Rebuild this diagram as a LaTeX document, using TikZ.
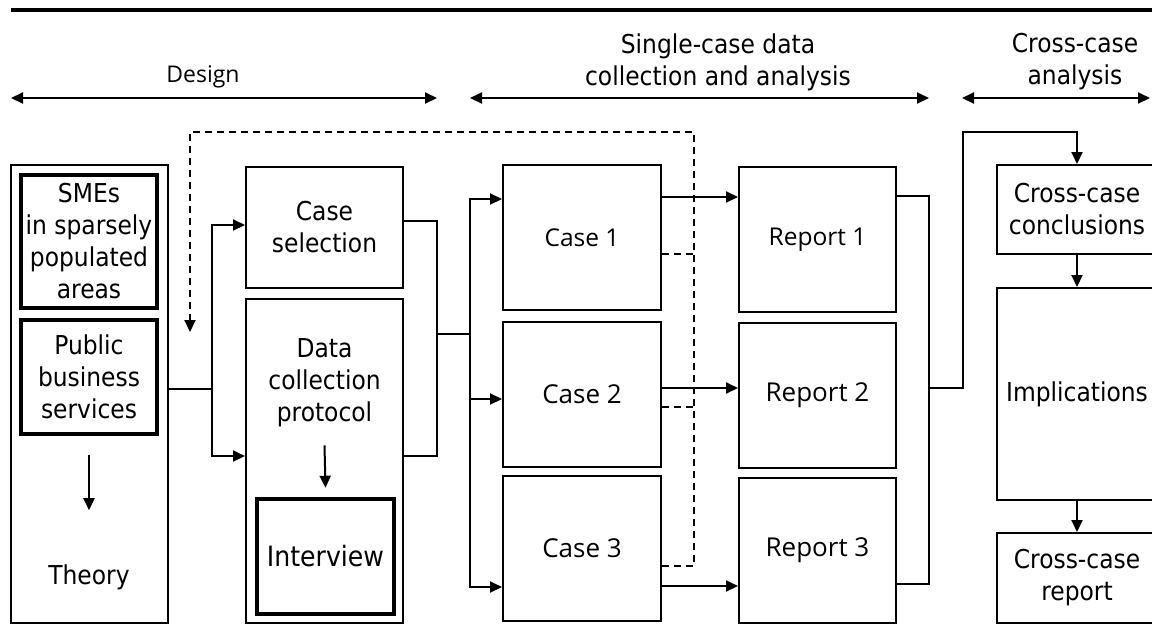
\documentclass[tikz,border=0pt]{standalone}
\usepackage{fontspec}
\setmainfont{DejaVu Sans Condensed}
\newfontfamily\casefont{Open Sans}
\usetikzlibrary{arrows.meta}

\newcommand\bigtxt{\fontsize{26pt}{32pt}\selectfont}

\tikzset{
  box/.style={draw, line width=2pt, inner sep=0pt, align=center, font=\bigtxt},
  thickbox/.style={box, line width=4.5pt},
  txt/.style={inner sep=0pt, align=center, font=\bigtxt},
  casebox/.style={box, minimum width=158pt, minimum height=145pt, font=\casefont\fontsize{26pt}{32pt}\selectfont},
  rightbox/.style={box, minimum width=160pt},
  conn/.style={line width=2pt},
  arr/.style={conn, -{Triangle[length=12pt,width=11pt]}},
  phase/.style={conn, {Triangle[length=12pt,width=11pt]}-{Triangle[length=12pt,width=11pt]}},
  fb/.style={arr, dash pattern=on 7pt off 5pt},
  fbline/.style={conn, dash pattern=on 7pt off 5pt}
}

\begin{document}
\begin{tikzpicture}[x=1pt, y=-1pt, line join=miter]
\useasboundingbox (0,0) rectangle (1152,641);
\draw[line width=4pt] (11,9.5) -- (1160,9.5);

% phases
\draw[phase] (11,98) -- (437,98);
\node[txt, font=\casefont\fontsize{23pt}{28pt}\selectfont] (design) at (203,77) {Design};
\draw[phase] (470,98) -- (929,98);
\node[txt] (single) at (718,62) {Single-case data\\collection and analysis};
\draw[phase] (962,98) -- (1150,98);
\node[txt] (cross) at (1075,62) {Cross-case\\analysis};

% theory
\node[box, minimum width=157pt, minimum height=458pt] (theory) at (89.5,394) {};
\node[thickbox, minimum width=136pt, minimum height=133pt] (smes) at (89,241.5) {SMEs\\in sparsely\\populated\\areas};
\node[thickbox, minimum width=136pt, minimum height=114pt] (pbs) at (89,377) {Public\\business\\services};
\node[txt] (theorytxt) at (89,577) {Theory};
\draw[arr] ([yshift=-19pt]pbs.south) -- ([yshift=54pt]theorytxt.north);

% design
\node[box, minimum width=157pt, minimum height=121pt] (casesel) at (324.5,227.5) {Case\\selection};
\node[box, minimum width=157pt, minimum height=324pt] (protocol) at (324.5,461) {};
\node[txt] (prottxt) at (324.5,383) {Data\\collection\\protocol};
\node[thickbox, minimum width=137pt, minimum height=115pt, font=\fontsize{28pt}{32pt}\selectfont] (interview) at (325.5,556.5) {Interview};
\draw[arr] ([yshift=-18pt]prottxt.south) -- ([yshift=9pt]interview.north);

% cases and reports
\node[casebox, font=\casefont\fontsize{24.5pt}{30pt}\selectfont] (case1) at (582,237.5) {Case 1};
\node[casebox] (case2) at (582,394) {Case 2};
\node[casebox] (case3) at (582,548.5) {Case 3};
\node[casebox, minimum width=157pt, font=\casefont\fontsize{24.5pt}{30pt}\selectfont] (rep1) at (817.5,239.5) {Report 1};
\node[casebox, minimum width=157pt] (rep2) at (817.5,395) {Report 2};
\node[casebox, minimum width=157pt] (rep3) at (817.5,550.5) {Report 3};

% cross-case
\node[rightbox, minimum height=89pt] (concl) at (1077,209.5) {Cross-case\\conclusions};
\node[rightbox, minimum height=212pt] (impl) at (1077,394) {Implications};
\node[rightbox, minimum height=90pt] (ccrep) at (1077,578) {Cross-case\\report};

% connectors
\coordinate (splitA) at (212,389);
\draw[conn] (theory.east |- splitA) -- (splitA);
\draw[arr] (splitA) |- ([yshift=2.5pt]casesel.west);
\draw[arr] (splitA) |- ([yshift=5pt]protocol.west);

\coordinate (joinB) at (437,334);
\coordinate (splitC) at (470,334);
\draw[conn] ([yshift=6.5pt]casesel.east) -| (joinB) |- ([yshift=5pt]protocol.east);
\draw[conn] (joinB) -- (splitC);
\draw[arr] (splitC) |- ([yshift=38.5pt]case1.west);
\draw[arr] (splitC) |- ([yshift=-5pt]case2.west);
\draw[arr] (splitC) |- ([yshift=-38.5pt]case3.west);

\foreach \i/\s in {1/40.5, 2/6, 3/-37.5}
  \draw[arr] ([yshift=\s pt]case\i.east) coordinate (out\i) -- (out\i -| rep\i.west);

\coordinate (fbtop) at (694,132);
\coordinate (fbend) at (190,332);
\foreach \i/\s in {1/-16.5, 2/-13}
  \draw[fbline] ([yshift=\s pt]case\i.east) coordinate (fb\i) -- (fb\i -| fbtop);
\draw[fb] ([yshift=-17.5pt]case3.east) -| (fbtop) -| (fbend);

\coordinate (joinD) at (929,388);
\coordinate (rise) at (963,132);
\draw[conn] ([yshift=43.5pt]rep1.east) -| (joinD);
\draw[conn] ([yshift=-33.5pt]rep3.east) -| (joinD);
\draw[arr] (joinD) -| (rise) -| (concl.north);
\draw[arr] (concl) -- (impl);
\draw[arr] (impl) -- (ccrep);
\end{tikzpicture}
\end{document}
